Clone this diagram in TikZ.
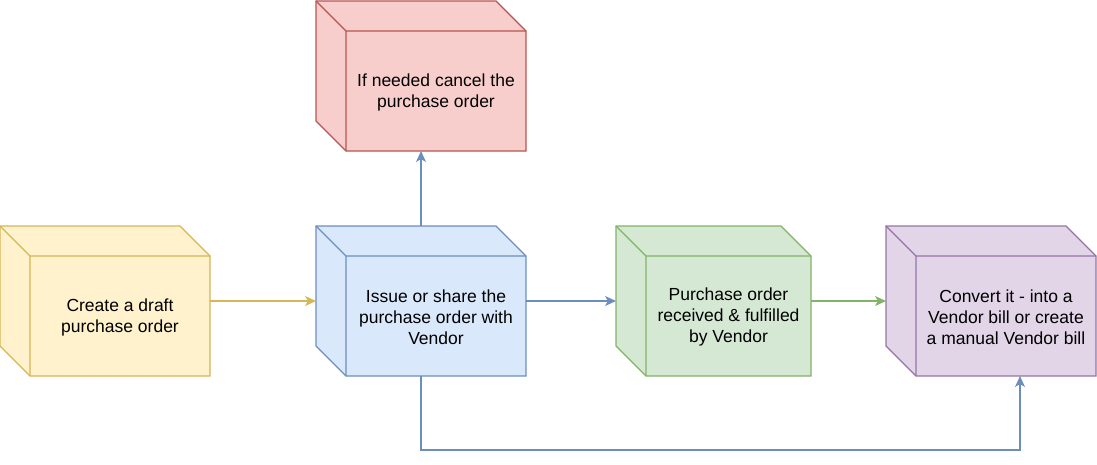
\documentclass[tikz,border=0pt]{standalone}
\usepackage{fontspec}
\setmainfont{Liberation Sans}
\usetikzlibrary{arrows.meta,positioning}
\definecolor{yfill}{HTML}{FFF2CC}\definecolor{yline}{HTML}{D6B656}
\definecolor{bfill}{HTML}{DAE8FC}\definecolor{bline}{HTML}{6C8EBF}
\definecolor{gfill}{HTML}{D5E8D4}\definecolor{gline}{HTML}{82B366}
\definecolor{rfill}{HTML}{F8CECC}\definecolor{rline}{HTML}{B85450}
\definecolor{pfill}{HTML}{E1D5E7}\definecolor{pline}{HTML}{9673A6}
% cube outline round a bounding node: #1 node name, #2 colour prefix
\newcommand{\drawcube}[2]{%
  \draw[#2line, fill=#2fill] (#1.north west) -- ([xshift=-30pt]#1.north east)
    -- ([yshift=-30pt]#1.north east) -- (#1.south east)
    -- ([xshift=30pt]#1.south west) -- ([yshift=30pt]#1.south west) -- cycle;
  \draw[#2line] (#1.north west) -- ([shift={(30pt,-30pt)}]#1.north west)
    -- ([yshift=-30pt]#1.north east)
    ([shift={(30pt,-30pt)}]#1.north west) -- ([xshift=30pt]#1.south west);
}

\begin{document}
\begin{tikzpicture}[x=1pt, y=-1pt,
  line width=1.2pt,
  every node/.style={font=\fontsize{17.5}{21}\selectfont},
  cube/.style={minimum width=210pt, minimum height=150pt, inner sep=0pt, outer sep=0pt},
  txt/.style={align=center, inner sep=0pt},
  flow/.style={-{Stealth[length=11pt, width=10pt, inset=3pt]}}]
\useasboundingbox (0,0) rectangle (1097,464);
\node[cube] (draft) at (105,301) {};
\node[cube] (issue) at (421,301) {};
\node[cube] (cancel) at (421,76) {};
\node[cube, minimum width=195pt] (recv) at (713.5,301) {};
\node[cube] (convert) at (991,301) {};
\drawcube{draft}{y}
\drawcube{issue}{b}
\drawcube{cancel}{r}
\drawcube{recv}{g}
\drawcube{convert}{p}
\node[txt] (draft-t) at ([shift={(15pt,-16pt)}]draft.center) {Create a draft\\purchase order};
\node[txt] (issue-t) at ([shift={(15pt,-16pt)}]issue.center) {Issue or share the\\purchase order with\\Vendor};
\node[txt] (cancel-t) at ([shift={(15pt,-16pt)}]cancel.center) {If needed cancel the\\purchase order};
\node[txt] (recv-t) at ([shift={(15pt,-16pt)}]recv.center) {Purchase order\\received \& fulfilled\\by Vendor};
\node[txt] (convert-t) at ([shift={(15pt,-16pt)}]convert.center) {Convert it - into a\\Vendor bill or create\\a manual Vendor bill};
\coordinate (loop) at (1020,450);
\draw[flow, yline] (draft) -- (issue);
\draw[flow, bline] (issue) -- (recv);
\draw[flow, gline] (recv) -- (convert);
\draw[flow, bline] (issue) -- (cancel);
\draw[flow, bline] (issue.south) |- (loop) -- (loop |- convert.south);
\end{tikzpicture}
\end{document}
